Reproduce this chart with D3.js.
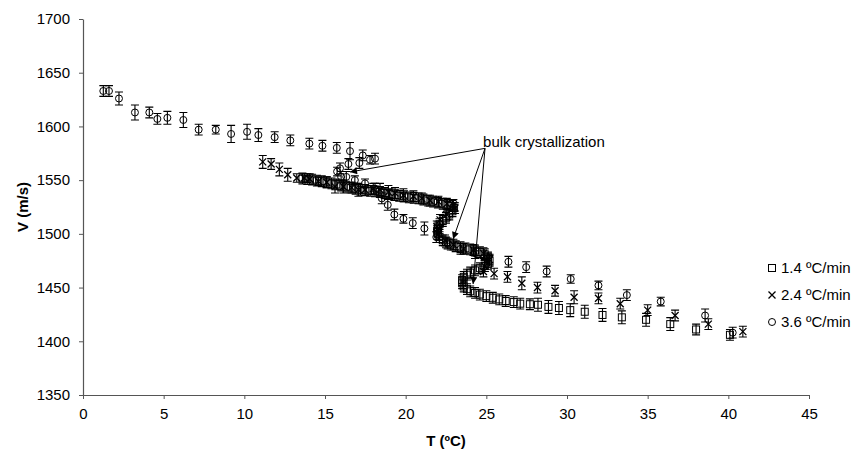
<!DOCTYPE html>
<html>
<head>
<meta charset="utf-8">
<script src="https://cdn.jsdelivr.net/npm/d3@7/dist/d3.min.js"></script>
<style>
  html, body { margin: 0; padding: 0; background: #fff; }
  svg { display: block; font-family: "Liberation Sans", Arial, sans-serif; }
</style>
</head>
<body>
<svg id="chart" width="858" height="457"></svg>
<script>
// ---------- data ----------
const xTicks = [0, 5, 10, 15, 20, 25, 30, 35, 40, 45];
const yTicks = [1350, 1400, 1450, 1500, 1550, 1600, 1650, 1700];
const seriesNames = ["1.4 \u00BAC/min", "2.4 \u00BAC/min", "3.6 \u00BAC/min"];
const xTitle = "T (\u00BAC)";
const yTitle = "V (m/s)";
const annotationText = "bulk crystallization";

// 1.4 ºC/min (squares): temperature, velocity, error
const T14 = [13.6,13.9,14.2,14.5,14.8,15.1,15.4,15.7,16.0,16.3,16.6,16.9,17.2,17.5,17.8,18.1,18.4,18.7,19.0,19.3,19.6,19.9,20.2,20.5,20.8,21.1,21.4,21.7,22.0,22.3,22.6,22.9,
  23.0,22.9,22.7,22.5,22.3,22.1,22.0,21.95,22.0,22.1,22.3,22.5,22.8,23.1,23.4,23.7,24.0,24.3,24.6,24.9,25.1,25.2,25.1,24.9,24.6,24.3,24.0,23.8,23.6,23.5,23.5,23.6,23.8,24.0,24.3,24.6,25.0,25.4,25.8,26.2,26.7,27.1,27.7,28.2,28.85,29.5,30.2,31.1,32.2,33.4,34.9,36.4,38.0,40.1];
const V14 = [1551.5,1551,1550.5,1549.5,1549,1548,1547,1546,1545,1544,1543,1542,1541,1540.5,1540,1539.5,1539,1538,1537,1536,1535.5,1535,1534,1533.5,1533,1532,1531,1530,1529,1528,1527,1526,
  1524,1521,1518,1515,1512,1509,1506,1503,1500,1497,1494,1492,1490,1488.5,1487.5,1486.5,1485.5,1484.5,1483,1481,1478,1475,1472,1470,1468,1466,1464,1462,1460,1457,1454,1451,1448.5,1446.5,1445,1443.5,1442,1440.5,1439,1437.5,1436.5,1435,1434.5,1434,1432,1431,1429,1427.5,1424.5,1422.3,1420,1416,1411,1406];
const E14 = [5,5,5,5,5,5,5,5,5,5,5,5,5,5,5,5,5,5,5,5,5,5,5,5,5,5,5,5,5,5,5,5,
  5,5,5,5,5,5,5,5,5,5,5,5,5,5,5,5,5,5,5,5,5,5,5,5,5,5,5,5,5,5,5,5,5,5,5,5,5,5,5,5,5,5,5,6,6,6,6,6,6,6,6,6,5,5];

// 2.4 ºC/min (crosses)
const T24 = [11.14,11.66,12.17,12.69,13.25,13.72,14.05,14.59,15.11,15.62,16.14,16.66,17.07,17.48,17.99,18.41,18.93,19.34,19.86,20.48,21.0,21.51,22.03,22.55,22.96,
  23.06,22.55,22.13,21.93,22.03,22.44,22.96,23.58,24.2,24.82,25.2,24.9,24.82,25.48,26.31,27.2,28.17,29.26,30.44,31.95,33.3,35.0,36.7,38.76,40.9];
const V24 = [1567,1565,1560,1555,1552,1552,1551,1549,1548,1544,1544,1543,1541,1541,1542,1541,1539,1538,1536,1535,1533,1531,1530,1528,1527,
  1524,1518,1513,1507,1500,1494,1490,1486,1485,1482,1476,1470,1465,1463,1460,1454,1450,1447,1441,1440,1435,1429,1424,1416,1409];
const E24 = [6,5,6,6,4,4,5,4,5,6,6,5,6,5,5,6,6,5,6,5,5,5,5,5,5,
  5,5,5,5,5,5,5,5,5,5,5,5,5,5,5,6,5,5,6,5,5,5,5,5,5];

// 3.6 ºC/min (circles)
const T36 = [1.26,1.61,2.23,3.22,4.11,4.61,5.23,6.22,7.17,8.23,9.18,10.17,10.87,11.88,12.85,14.03,14.84,15.73,16.55,17.34,17.79,18.1,
  17.13,16.45,15.93,15.75,16.0,16.32,16.85,17.48,18.1,18.52,18.89,19.3,19.86,20.44,21.16,21.9,22.6,23.4,24.3,25.1,
  26.37,27.47,28.74,30.23,31.95,33.71,35.81,38.56,40.27];
const V36 = [1633,1633,1626,1613,1613,1607,1608,1606,1597,1597,1593,1595,1592,1590,1587,1584,1582,1580,1577,1573,1569,1570,
  1566,1565,1561,1558,1553,1553,1550,1547,1542,1533,1527,1518,1514,1510,1505,1497,1491,1486,1482,1477,
  1474,1469,1465,1458,1452,1443,1437,1424,1408];
const E36 = [5,5,6,7,5,5,6,7,5,4,8,7,6,5,5,5,5,5,8,5,4,5,
  5,5,5,4,5,5,4,4,5,5,5,5,4,5,6,5,5,5,5,5,
  5,5,5,4,4,5,4,6,5];

// annotation anchor points (T, V)
const labelAt = [24.8, 1585.5];
const arrowFrom = [24.92, 1579.6];
const arrowTo = [[16.55, 1557.6], [22.94, 1495.2], [24.18, 1453.3]];

// ---------- drawing ----------
const svg = d3.select("#chart");
const x = d3.scaleLinear().domain([0, 45]).range([83, 809]);
const y = d3.scaleLinear().domain([1350, 1700]).range([395, 19]);
const axisColor = "#555";
const fontSize = "15px";

const xAxis = svg.append("g").attr("transform", `translate(0,${y(1350)})`)
  .call(d3.axisBottom(x).tickValues(xTicks).tickFormat(d3.format("d")).tickSize(4).tickSizeOuter(0).tickPadding(9));
const yAxis = svg.append("g").attr("transform", `translate(${x(0)},0)`)
  .call(d3.axisLeft(y).tickValues(yTicks).tickFormat(d3.format("d")).tickSize(4).tickSizeOuter(0).tickPadding(9));
[xAxis, yAxis].forEach(a => {
  a.select(".domain").attr("stroke", axisColor).attr("stroke-width", 1.2);
  a.selectAll(".tick line").attr("stroke", axisColor);
  a.selectAll(".tick text").attr("fill", "#000").style("font-size", fontSize)
    .style("font-family", "'Liberation Sans', Arial, sans-serif");
});

svg.append("text").attr("x", (x(0) + x(45)) / 2).attr("y", 446)
  .attr("text-anchor", "middle").style("font-size", fontSize).style("font-weight", "bold").text(xTitle);
svg.append("text").attr("transform", `translate(28,${(y(1350) + y(1700)) / 2}) rotate(-90)`)
  .attr("text-anchor", "middle").style("font-size", fontSize).style("font-weight", "bold").text(yTitle);

const series = [
  { T: T14, V: V14, E: E14, shape: "square" },
  { T: T24, V: V24, E: E24, shape: "cross" },
  { T: T36, V: V36, E: E36, shape: "circle" }
];

function drawMarker(g, shape, cx, cy) {
  const s = 3.5;
  if (shape === "square") {
    g.append("rect").attr("x", cx - s).attr("y", cy - s).attr("width", 2 * s).attr("height", 2 * s)
      .attr("fill", "none").attr("stroke", "#000").attr("stroke-width", 1);
  } else if (shape === "circle") {
    g.append("circle").attr("cx", cx).attr("cy", cy).attr("r", s)
      .attr("fill", "none").attr("stroke", "#000").attr("stroke-width", 1);
  } else {
    g.append("path").attr("d", `M${cx - s},${cy - s}L${cx + s},${cy + s}M${cx - s},${cy + s}L${cx + s},${cy - s}`)
      .attr("fill", "none").attr("stroke", "#000").attr("stroke-width", 1.3);
  }
}

const plot = svg.append("g");
series.forEach(sr => {
  const g = plot.append("g");
  sr.T.forEach((t, i) => {
    const cx = x(t), v = sr.V[i], e = sr.E[i];
    const y1 = y(v + e), y2 = y(v - e);
    g.append("path")
      .attr("d", `M${cx},${y1}L${cx},${y2}M${cx - 4},${y1}L${cx + 4},${y1}M${cx - 4},${y2}L${cx + 4},${y2}`)
      .attr("stroke", "#000").attr("stroke-width", 1.1).attr("fill", "none");
    drawMarker(g, sr.shape, cx, y(v));
  });
});

// annotation
const defs = svg.append("defs");
defs.append("marker").attr("id", "arrow").attr("viewBox", "0 0 10 10").attr("refX", 10).attr("refY", 5)
  .attr("markerWidth", 9).attr("markerHeight", 7).attr("markerUnits", "userSpaceOnUse").attr("orient", "auto")
  .append("path").attr("d", "M0,0L10,5L0,10Z").attr("fill", "#000");
arrowTo.forEach(p => {
  svg.append("line").attr("x1", x(arrowFrom[0])).attr("y1", y(arrowFrom[1]))
    .attr("x2", x(p[0])).attr("y2", y(p[1])).attr("stroke", "#000").attr("stroke-width", 1)
    .attr("marker-end", "url(#arrow)");
});
svg.append("text").attr("x", x(labelAt[0])).attr("y", y(labelAt[1]) + 5)
  .style("font-size", fontSize).text(annotationText);

// legend
const legendY = [268, 295, 322];
const legendShapes = ["square", "cross", "circle"];
seriesNames.forEach((name, i) => {
  const lg = svg.append("g");
  drawMarker(lg, legendShapes[i], 772, legendY[i]);
  lg.append("text").attr("x", 781).attr("y", legendY[i] + 5).style("font-size", fontSize).text(name);
});
</script>
</body>
</html>
